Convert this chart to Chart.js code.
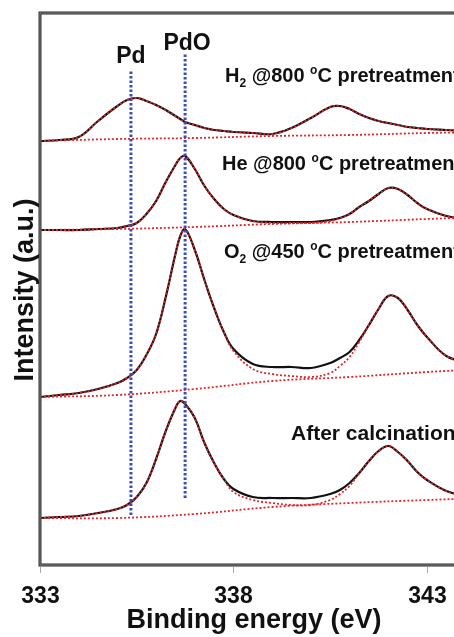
<!DOCTYPE html>
<html>
<head>
<meta charset="utf-8">
<script src="https://cdn.jsdelivr.net/npm/chart.js@4.4.0/dist/chart.umd.min.js"></script>
<style>
  html, body { margin: 0; padding: 0; background: #fff; overflow: hidden; }
  #wrap { width: 454px; height: 637px; overflow: hidden; }
</style>
</head>
<body>
<div id="wrap"><canvas id="chart" width="500" height="637"></canvas></div>
<script>
// binding energy grid (eV) shared by the four spectra
const energy = [333.0, 333.5, 334.0, 334.5, 335.0, 335.25, 335.5, 335.75, 336.0, 336.25,
                336.5, 336.625, 336.75, 337.0, 337.25, 337.5, 337.75, 338.0, 338.5, 339.0,
                339.5, 340.0, 340.5, 340.75, 341.0, 341.25, 341.5, 341.75, 342.0, 342.25,
                342.5, 342.75, 343.0, 343.5, 344.0, 344.5];

// measured spectra (stacked, arbitrary units)
const h2Data   = [424,425,428,444,459,465,467,464,460,455, 449,446,443,440,437,435,434,433,432,431,
                  437,447,458,459,456,451,447,444,442,440, 438,437,436,435,434,433];
const heData   = [335,335,335,336,337,339,342,351,364,383, 400,407,409,396,379,366,356,350,344,343,
                  343,343,345,347,351,358,364,371,377,376, 370,362,356,349,346,344];
const o2Data   = [168,170,172,176,182,187,195,210,231,268, 311,329,336,315,285,257,233,216,201,198,
                  198,197,202,207,213,225,240,256,269,267, 255,240,228,209,203,199];
const calcData = [47,48,49,52,56,60,68,82,106,134, 157,164,161,147,122,102,86,76,68,67,
                  67,67,71,75,82,92,104,114,119,113, 104,93,85,74,69,66];

// fitted envelopes
const h2Fit   = [424,425,428,444,459,465,467,464,460,455, 449,446,443,440,437,435,434,433,432,431,
                 437,447,458,459,456,451,447,444,442,440, 438,437,436,435,434,433];
const heFit   = [335,335,335,336,337,339,342,351,364,383, 400,407,409,396,379,366,356,350,344,342,
                 342,342,344,347,351,358,364,371,377,376, 370,362,356,349,346,344];
const o2Fit   = [168,170,172,176,182,187,195,210,231,268, 311,329,336,315,285,257,233,214,196,191,
                 189,188,192,199,208,223,240,256,269,267, 255,240,228,209,203,199];
const calcFit = [47,48,49,52,56,60,68,82,106,134, 157,164,161,147,122,102,86,73,65,62,
                 60,60,65,71,79,92,104,114,119,113, 104,93,85,74,69,66];

// backgrounds
const bgEnergy = [333, 335, 337, 339, 341, 343, 344.5];
const h2Bg   = [424, 426, 427, 429, 430, 432, 433];
const heBg   = [335, 336, 338, 341, 343, 346, 348];
const o2Bg   = [168, 170, 176, 184, 188, 193, 196];
const calcBg = [47, 47, 51, 58, 62, 65, 67];

// Pd / PdO reference positions
const refLabels = ["Pd", "PdO"];
const refEnergy = [335.35, 336.75];
const refTop    = [495, 512];
const refBottom = [50, 67];

const xTicks = [333, 338, 343];

const FONT = '"Liberation Sans", Arial, sans-serif';

function series(xs, ys, color, width, dash, order) {
  return {
    data: xs.map((x, i) => ({ x: x, y: ys[i] })),
    borderColor: color,
    borderWidth: width,
    borderDash: dash,
    pointRadius: 0,
    fill: false,
    tension: 0.4,
    order: order
  };
}

const RED = '#e0262b';
const BLUE = '#3b4eb3';

const datasets = [];
[h2Data, heData, o2Data, calcData].forEach(d => datasets.push(series(energy, d, '#111', 2.2, [], 3)));
[h2Fit, heFit, o2Fit, calcFit].forEach(d => datasets.push(series(energy, d, RED, 1.8, [2, 2], 2)));
[h2Bg, heBg, o2Bg, calcBg].forEach(d => datasets.push(series(bgEnergy, d, RED, 1.8, [2, 2], 2)));
refEnergy.forEach((e, i) => {
  const ds = series([e, e], [refBottom[i], refTop[i]], BLUE, 3, [2.5, 2], 1);
  ds.tension = 0;
  datasets.push(ds);
});

function drawRich(ctx, x, y, parts, size) {
  let cx = x;
  parts.forEach(p => {
    const fs = p.sub || p.sup ? 12 : size;
    ctx.font = 'bold ' + fs + 'px ' + FONT;
    const dy = p.sub ? 5 : (p.sup ? -8 : 0);
    ctx.fillText(p.t, cx, y + dy);
    cx += ctx.measureText(p.t).width;
  });
}

const decor = {
  id: 'decor',
  afterDraw(chart) {
    const ctx = chart.ctx;
    const a = chart.chartArea;
    const xs = chart.scales.x;
    ctx.save();

    // frame
    ctx.strokeStyle = '#2a2a2a';
    ctx.lineWidth = 3;
    ctx.strokeRect(a.left, a.top, a.right - a.left, a.bottom - a.top);
    ctx.strokeStyle = '#8a8a8a';
    ctx.lineWidth = 1;
    ctx.strokeRect(a.left, a.top, a.right - a.left, a.bottom - a.top);

    // ticks + tick labels
    ctx.fillStyle = '#111';
    ctx.textAlign = 'center';
    ctx.textBaseline = 'alphabetic';
    ctx.font = 'bold 23px ' + FONT;
    xTicks.forEach(v => {
      const px = Math.round(xs.getPixelForValue(v)) + 0.5;
      ctx.strokeStyle = '#aaa';
      ctx.beginPath();
      ctx.moveTo(px, a.bottom + 2);
      ctx.lineTo(px, a.bottom + 8);
      ctx.stroke();
      ctx.fillText(String(v), px, 603);
    });

    // axis titles
    ctx.font = 'bold 27px ' + FONT;
    ctx.fillText('Binding energy (eV)', 254, 628);
    ctx.save();
    ctx.translate(33, 290);
    ctx.rotate(-Math.PI / 2);
    ctx.fillText('Intensity (a.u.)', 0, 0);
    ctx.restore();

    // Pd / PdO labels
    ctx.font = 'bold 23px ' + FONT;
    ctx.fillText(refLabels[0], xs.getPixelForValue(refEnergy[0]), 63);
    ctx.fillText(refLabels[1], xs.getPixelForValue(refEnergy[1]) + 2, 50);

    // spectrum annotations
    ctx.textAlign = 'left';
    drawRich(ctx, 225, 82, [{ t: 'H' }, { t: '2', sub: true }, { t: ' @800 ' }, { t: 'o', sup: true }, { t: 'C pretreatment' }], 20);
    drawRich(ctx, 222, 170, [{ t: 'He @800 ' }, { t: 'o', sup: true }, { t: 'C pretreatment' }], 20);
    drawRich(ctx, 224, 258, [{ t: 'O' }, { t: '2', sub: true }, { t: ' @450 ' }, { t: 'o', sup: true }, { t: 'C pretreatment' }], 20);
    drawRich(ctx, 291, 440, [{ t: 'After calcination' }], 21);

    ctx.restore();
  }
};

new Chart(document.getElementById('chart'), {
  type: 'line',
  data: { datasets: datasets },
  options: {
    responsive: false,
    animation: false,
    layout: { padding: { left: 40, top: 13, right: 15, bottom: 72 } },
    plugins: { legend: { display: false }, tooltip: { enabled: false } },
    scales: {
      x: { type: 'linear', min: 333, max: 344.5, display: false },
      y: { min: 0, max: 552, display: false }
    }
  },
  plugins: [decor]
});
</script>
</body>
</html>
